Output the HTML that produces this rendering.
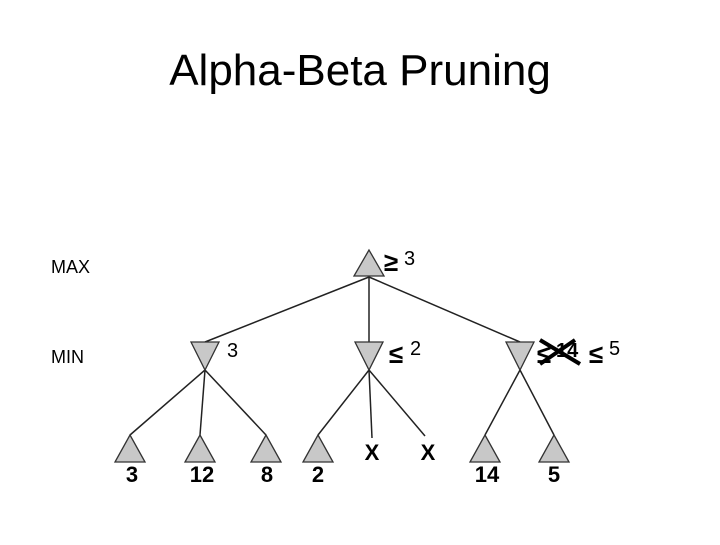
<!DOCTYPE html>
<html><head><style>
body{margin:0;background:#fff;}
</style></head><body>
<svg width="720" height="540" xmlns="http://www.w3.org/2000/svg" font-family="Liberation Sans, sans-serif">
<text x="360" y="85" font-size="44" text-anchor="middle">Alpha-Beta Pruning</text>
<text x="51" y="273" font-size="18">MAX</text>
<text x="51" y="363" font-size="18">MIN</text>
<g stroke="#222" stroke-width="1.5" fill="none">
<line x1="369" y1="277" x2="205" y2="342"/>
<line x1="369" y1="277" x2="369" y2="342"/>
<line x1="369" y1="277" x2="520" y2="342"/>
<line x1="205" y1="370" x2="130" y2="435"/>
<line x1="205" y1="370" x2="200" y2="435"/>
<line x1="205" y1="370" x2="266" y2="435"/>
<line x1="369" y1="370" x2="318" y2="435"/>
<line x1="369" y1="370" x2="372" y2="438"/>
<line x1="369" y1="370" x2="425" y2="436"/>
<line x1="520" y1="370" x2="485" y2="435"/>
<line x1="520" y1="370" x2="554" y2="435"/>
</g>
<g fill="#c8c8c8" stroke="#333" stroke-width="1.3">
<polygon points="369,250 354,276 384,276"/>
<polygon points="191,342 219,342 205,370"/>
<polygon points="355,342 383,342 369,370"/>
<polygon points="506,342 534,342 520,370"/>
<polygon points="130,435 115,462 145,462"/>
<polygon points="200,435 185,462 215,462"/>
<polygon points="266,435 251,462 281,462"/>
<polygon points="318,435 303,462 333,462"/>
<polygon points="485,435 470,462 500,462"/>
<polygon points="554,435 539,462 569,462"/>
</g>
<g font-size="22" font-weight="bold" text-anchor="middle">
<text x="132" y="482">3</text>
<text x="202" y="482">12</text>
<text x="267" y="482">8</text>
<text x="318" y="482">2</text>
<text x="487" y="482">14</text>
<text x="554" y="482">5</text>
<text x="372" y="460">X</text>
<text x="428" y="460">X</text>
</g>
<g font-size="20">
<text x="384" y="271" font-weight="bold" font-size="26">≥</text><text x="404" y="265">3</text>
<text x="227" y="357">3</text>
<text x="389" y="363" font-weight="bold" font-size="26">≤</text><text x="410" y="355">2</text>
<text x="537" y="363" font-weight="bold" font-size="26">≤</text><text x="556" y="357" font-weight="bold">14</text>
<text x="589" y="363" font-weight="bold" font-size="26">≤</text><text x="609" y="355">5</text>
</g>
<g stroke="#000" stroke-width="4">
<line x1="540" y1="340" x2="580" y2="364"/>
<line x1="540" y1="364" x2="575" y2="340"/>
</g>
</svg>
</body></html>
